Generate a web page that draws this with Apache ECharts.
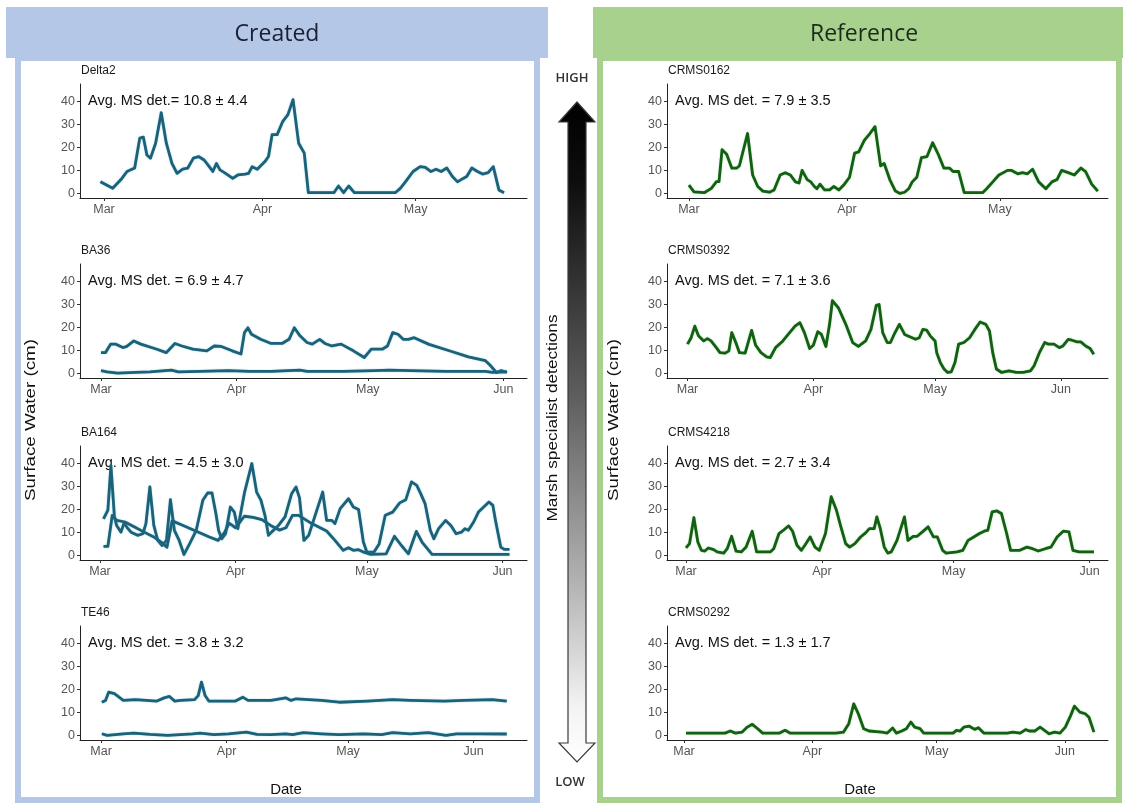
<!DOCTYPE html>
<html><head><meta charset="utf-8">
<script src="https://cdn.jsdelivr.net/npm/echarts@6/dist/echarts.min.js"></script>
<style>html,body{margin:0;padding:0;background:#fff}#c{width:1126px;height:804px}</style>
</head><body><div id="c"></div>
<script>
// ---------- tick labels / categories ----------
const monthStarts = [0, 31, 61, 92];          // day index, Mar 1 = 0
const monthLabels = ['Mar', 'Apr', 'May', 'Jun'];
const yTicks = [0, 10, 20, 30, 40];
const createdSites = ['Delta2', 'BA36', 'BA164', 'TE46'];
const referenceSites = ['CRMS0162', 'CRMS0392', 'CRMS4218', 'CRMS0292'];
const createdNotes = ['Avg. MS det.= 10.8 \u00b1 4.4', 'Avg. MS det. = 6.9 \u00b1 4.7', 'Avg. MS det. = 4.5 \u00b1 3.0', 'Avg. MS det. = 3.8 \u00b1 3.2'];
const referenceNotes = ['Avg. MS det. = 7.9 \u00b1 3.5', 'Avg. MS det. = 7.1 \u00b1 3.6', 'Avg. MS det. = 2.7 \u00b1 3.4', 'Avg. MS det. = 1.3 \u00b1 1.7'];

// ---------- series values: [day since Mar 1, surface water cm] ----------
const delta2 = [[-0.7,5.1],[1.7,2.2],[2,2],[3.5,6.5],[4.5,9.5],[6,11],[7,24],[7.7,24.4],[8.4,16.7],[9.1,15.3],[10.1,21.8],[11.2,35],[12.2,21.8],[13.3,13],[14.3,8.7],[15.4,10.5],[16.4,11],[17.5,15.3],[18.5,16],[19.6,14.5],[20.6,11.6],[21.3,9.5],[22,13],[22.7,10.2],[23.8,8.7],[25.2,6.5],[26.2,8],[27.6,8.4],[28.3,8.7],[29,11.6],[30,10.5],[31.5,13.8],[32.2,16],[32.9,25.5],[33.9,25.5],[35,31.3],[36,34.2],[37,40.7],[38.1,21.8],[39.2,17.5],[40,0.3],[45,0.3],[45.9,3.2],[46.9,0.3],[47.9,3.2],[49,0.3],[57,0.3],[58,2.2],[59,5],[60.5,9.5],[61.9,11.6],[62.9,11.3],[64,9.5],[65,10.5],[66,9.5],[67.1,11],[68.2,7.3],[69.2,5],[70.3,6.5],[71,7.3],[72,11],[73.1,9.5],[74.1,8.4],[75.2,9],[76.2,11.6],[77.3,1.5],[78.3,0.3]];

const ba36Upper = [[0,9],[1,9],[2.2,12.7],[3.4,12.7],[5,11.2],[5.9,11.7],[7.5,14.1],[9.1,12.7],[12.8,10.5],[14.9,9],[16.9,13],[18.5,11.9],[21,10.5],[24.2,9.8],[25.9,11.9],[27.5,11.7],[30,9.8],[32,8.4],[32.8,17.7],[33.6,19.8],[34.4,17],[36.5,14.8],[38.9,13],[41.4,13],[43,14.8],[44.2,19.8],[45.5,16.3],[47.1,13.4],[48.3,12.7],[50,14.8],[51.2,13],[52.8,11.9],[54.9,12.7],[57.7,9.8],[60.2,6.9],[61.8,10.5],[64.3,10.5],[65.5,11.9],[66.7,17.7],[67.9,17],[69.1,14.8],[70.3,14.8],[71.6,15.5],[75,12.6],[80,9.6],[84,7.2],[87.9,5.5],[89.1,3.3],[90.4,0.4],[91.5,1.2],[92.8,0.5]];
const ba36Lower = [[0,1.2],[1.4,0.7],[3.8,0.1],[7.9,0.4],[11.2,0.7],[16.1,1.4],[17.7,0.7],[22.6,0.9],[29.1,1.2],[34,0.9],[38.9,0.9],[45.5,1.4],[47.1,0.9],[55.3,0.9],[62.6,1.2],[65.9,1.4],[70.8,1.2],[78.9,0.9],[83,0.9],[87.9,0.9],[89.5,0.4],[92.8,0.7]];

const ba164A = [[0.8,15.9],[1.8,19.6],[2.5,39],[3.3,16.7],[3.8,13],[4.8,10.1],[5.5,14.1],[6.4,11.6],[7.1,10.1],[8.6,8.7],[9.8,9.4],[10.5,13.8],[11.4,29.7],[12.3,13],[13.2,6.5],[14.2,4.3],[15.2,6.5],[16.1,24.2],[17,10.9],[18.1,6.5],[19.2,0.4],[20.5,5.1],[22,10.9],[23.5,23.9],[24.6,27.1],[25.6,27.1],[26.5,18.1],[27.1,10.9],[27.8,7.2],[28.7,9.4],[29.8,21],[30.7,18.8],[31.5,11.6],[33,27],[34.7,39.9],[35.8,27.5],[36.8,23.9],[37.7,17.4],[38.5,8.7],[39.2,10.1],[40.8,13],[42.3,16.7],[43.8,26.8],[44.8,29.7],[45.6,25],[46.6,6.5],[47.7,8.7],[50.9,27.5],[51.8,15.2],[53,15.2],[53.7,13.8],[54.9,20.3],[56.8,24.6],[57.9,21],[59.1,19.9],[60.2,5.8],[61,1.4],[62.6,1.4],[63.8,5],[65.2,17.4],[66.9,18.8],[68.5,22.8],[69.9,24.2],[71.2,31.9],[72.4,30.4],[73.3,26.8],[74.3,22.5],[75.5,10.9],[76.3,7.2],[77.4,11.6],[79,15.2],[80.2,13],[81.4,9.4],[82.6,10.1],[83.4,11.6],[84.2,10.9],[85.4,14.5],[86.5,18.8],[87.7,21],[88.9,23.2],[89.8,21.7],[90.4,15.2],[91.6,3.6],[92.4,2.6],[93.6,2.6]];
const ba164B = [[0.8,3.9],[1.8,3.9],[2.8,17.4],[3.8,15.2],[5.7,14.5],[7.9,12.3],[10.1,10.1],[12.3,8],[14.2,5.4],[15.3,3.5],[16.5,15],[19,13],[22,10.5],[25,8],[27,6.5],[28.5,10],[29.5,14],[31,12],[33,17],[35,16.5],[37,15.5],[39,13],[41,11],[42.5,12],[44,17.4],[45.4,17.4],[48.4,13.8],[51.8,10.6],[53.7,6.5],[55.6,2.2],[56.8,3.3],[57.9,2.2],[59.1,2.5],[60.3,1.4],[61.9,0.4],[65.4,0.7],[67.3,8.3],[68.9,4.3],[70.5,0.7],[72.3,10.4],[73.6,5.8],[75.9,0.4],[93.6,0.4]];

const te46Upper = [[0.2,14.4],[1.1,15.2],[1.9,18.8],[3.3,18.1],[5.5,15.2],[8.5,15.5],[13.8,14.9],[15.6,16.3],[16.9,16.9],[18.2,14.9],[19.6,15.2],[23.1,15.5],[24,17.3],[24.8,23.1],[25.7,17.3],[26.6,14.9],[33.2,14.9],[35,16.6],[36.3,15.2],[42,15.2],[45.6,16.3],[46.9,15.2],[48.2,15.9],[54.4,15.2],[58.8,14.4],[65.8,14.9],[72,15.5],[76.4,15.2],[84.8,14.9],[89.6,15.2],[96.6,15.5],[100.2,14.9]];
const te46Lower = [[0.2,0.7],[1.5,0],[5.5,0.7],[8.1,1],[12.1,0.4],[16.5,0],[22.6,0.7],[24.4,1],[27.9,0.3],[31.5,0.7],[35.9,1.4],[38.5,0.4],[42,0.3],[45.6,0.7],[47.3,0.3],[50,1.2],[54.4,0.7],[58.8,0.3],[64.9,0.7],[69.3,0.3],[72,1.2],[76.4,0.7],[80.8,1.2],[85.2,0],[87.8,0.7],[94,0.7],[100.2,0.6]];

const crms0162 = [[0,3.6],[1,0.7],[3,0.3],[4.4,2.2],[5.4,5.1],[5.9,5.1],[6.5,19],[7.4,17],[8.4,11],[9.4,11],[9.9,12],[11.5,26],[12.5,8],[13.5,3],[14.5,1],[15.8,0.5],[16.7,1.5],[17.9,8],[18.9,9],[19.9,8],[20.9,5],[21.6,4.5],[22.2,10],[23.2,6],[23.9,5],[24.6,3],[25.1,2],[25.7,4],[26.6,1.5],[27.6,1.5],[28.4,3],[29.4,1.5],[30.5,4],[31.5,7],[32.5,17.5],[33.3,18],[34.4,23],[35.5,26],[36.5,29],[37.6,12],[38.3,13],[39.4,6],[40.5,1],[41.4,0],[42.3,0.5],[43.1,2],[43.8,5],[44.7,7],[45.6,15.5],[46.7,16],[47.8,22],[48.9,17],[50,11],[51.1,11],[51.8,9.5],[52.9,9.5],[54,0.3],[57.6,0.3],[58.4,2],[59.6,5],[60.8,8],[62.5,10],[63.2,10],[64.5,8.5],[65.4,9],[66.4,8.5],[67.4,10.5],[68.6,5],[70,2],[71.2,5],[72.2,6],[73.1,10],[74.4,9],[75.6,8],[76.9,11],[77.8,9.5],[79,4],[80.2,1]];
const crms0392 = [[0,12.7],[0.9,15.5],[1.8,20.5],[2.7,16.3],[4,14.1],[4.9,15.1],[5.8,14.1],[7.1,11.2],[8,9],[9.3,8.8],[10.2,9.8],[10.9,17.7],[11.9,13.4],[12.8,9],[14.2,8.8],[15.8,18.7],[16.8,12.2],[18.1,9],[19.5,7.2],[20.4,6.9],[21.7,11.2],[23.5,14.1],[24.8,16.9],[26.5,20.5],[27.7,22],[28.8,17.7],[30.1,10.8],[31,12.2],[32.1,18.1],[33,16.9],[34.1,11.7],[35,21.3],[35.7,31.6],[37.2,28.4],[39,21.3],[40.7,13.4],[42.1,11.7],[43.9,14.1],[45.2,19.1],[46.5,29.5],[47.2,29.9],[48.1,17.7],[49.2,13.4],[50,13.4],[50.9,16.9],[52.2,21.3],[53.5,16.9],[54.9,15.8],[56.2,14.8],[57.1,15.5],[58,19.1],[58.9,18.8],[59.8,16.3],[61,14.1],[61.4,9],[62.3,4.7],[63.2,1.9],[64.1,0.4],[65,0.7],[65.9,4.7],[66.8,12.7],[68.1,13.4],[69.5,15.5],[70.8,19.1],[72.1,22.3],[73.5,21.3],[74.4,18.4],[75.2,9],[76.1,1.9],[77.4,0.4],[79.2,1.1],[81,0.4],[82.7,0.4],[84.5,1.1],[85.4,3.3],[86.7,9],[88,13.4],[88.9,12.7],[90.3,12.7],[91.6,11.2],[92.5,11.9],[93.8,14.8],[94.7,14.4],[96,13.7],[96.9,13.7],[98.1,11.9],[99.2,10.8],[100.1,8.3]];
const crms4218 = [[0,3.3],[0.8,5.1],[1.8,16.4],[2.7,5.8],[3.5,2.2],[4.3,1.9],[5.1,3.2],[6.3,2.5],[7.1,1.5],[8.6,1],[9.4,2.9],[10.4,8.3],[11.4,1.9],[12.6,1.5],[13.7,3.6],[15.1,10.5],[16.1,1.5],[19.2,1.5],[20,2.9],[21.2,9.5],[22,10.6],[23.4,12.8],[24.3,10.5],[25.3,4.4],[26.3,2.2],[27.1,4.4],[28.3,8],[29.4,3.6],[30.4,2.2],[31.8,9.5],[33.1,25.5],[34.3,19.6],[35.2,13.1],[36.4,5.1],[37.3,3.6],[38.5,5.1],[39.8,8],[41,9.9],[41.8,11.6],[42.9,11.6],[43.5,16.7],[44.3,11.6],[45.2,3.6],[46,1],[46.8,1.5],[48.1,6.5],[49.8,16.7],[50.6,6.5],[51.8,8.3],[52.7,8.3],[53.9,10.2],[55.2,12.4],[56.4,8],[57.3,8],[58.5,2.2],[59.3,1],[61.8,1.5],[63.1,2.2],[64.3,6.5],[65.6,8],[66.9,9.5],[68.1,10.6],[68.8,10.9],[69.8,18.9],[70.9,19.3],[71.9,18.2],[73.1,9.5],[74,2.2],[76.1,2.2],[77.7,3.6],[79,2.9],[80.3,1.9],[81.9,2.9],[83.2,3.6],[84.6,8],[86,10.5],[87.3,10.2],[88.2,2.2],[89.6,1.5],[91.2,1.5],[93,1.5]];
const crms0292 = [[0.5,1],[5,1],[9.9,1],[11.2,1.9],[12.4,1],[14,1.4],[15.3,3.6],[16.5,4.8],[17.8,2.9],[19,1],[23.1,1],[24.4,2.2],[25.6,1],[36.7,1],[38.5,1.4],[39.8,5.1],[41,13.7],[42.1,9.4],[43.4,2.9],[44.7,1.9],[47.8,1.4],[49.1,1],[50.4,3.2],[51.3,1],[52.6,1.9],[53.7,2.9],[54.8,5.8],[55.7,3.6],[57,2.9],[57.9,1],[65,1],[65.8,2.2],[66.7,1.9],[67.6,3.6],[68.9,4],[70.2,2.6],[71.1,3.3],[72.4,1],[78.1,1],[79.4,1.4],[81.2,1],[82.5,2.5],[83.4,1.9],[84.7,1.9],[86,3.6],[87.3,1.9],[88.2,0.7],[89.5,1.4],[90.8,1],[92.1,3.6],[93.4,8.7],[94.3,12.7],[95.6,10.1],[96.9,9.4],[97.8,7.9],[99,1.4]];

// ---------- layout ----------
const FONT = '"Liberation Sans", Arial, sans-serif';
const BLUE_LINE = '#1d6179', GREEN_LINE = '#136013';
const gridTops = [84, 264, 446, 626];
const gridH = 114;
const colLeft = [80, 667], colWidth = [447, 441];
// x ranges (days) per panel: created 0..3, reference 0..3
const xRanges = [
  [-4.7, 82.8], [-4.8, 97.4], [-4.57, 97.6], [-5.2, 105.2],
  [-4.3, 82.2], [-5.05, 103.6], [-4.33, 96.2], [-4.1, 102.4]
];

const grids = [], xAxes = [], yAxes = [];
for (let c = 0; c < 2; c++) {
  for (let r = 0; r < 4; r++) {
    const i = c * 4 + r;
    grids.push({ left: colLeft[c], top: gridTops[r], width: colWidth[c], height: gridH, containLabel: false });
    const [mn, mx] = xRanges[i];
    const ticks = monthStarts.filter(v => v >= mn && v <= mx);
    xAxes.push({
      gridIndex: i, type: 'value', min: mn, max: mx,
      axisLine: { onZero: false, lineStyle: { color: '#222', width: 1 } },
      axisTick: { customValues: ticks, length: 3, lineStyle: { color: '#333' } },
      axisLabel: { customValues: ticks, formatter: v => monthLabels[monthStarts.indexOf(v)], color: '#555', fontSize: 12.5, fontFamily: FONT, margin: 5 },
      splitLine: { show: false }
    });
    yAxes.push({
      gridIndex: i, type: 'value', min: -2, max: 47.5,
      axisLine: { show: true, onZero: false, lineStyle: { color: '#222', width: 1 } },
      axisTick: { show: true, customValues: yTicks, length: 3, lineStyle: { color: '#333' } },
      axisLabel: { customValues: yTicks, color: '#555', fontSize: 12.5, fontFamily: FONT, margin: 5 },
      splitLine: { show: false }
    });
  }
}

function line(idx, data, green) {
  return {
    type: 'line', xAxisIndex: idx, yAxisIndex: idx, data: data,
    showSymbol: false, symbol: 'none', silent: true,
    lineStyle: { width: 2.8, color: green ? GREEN_LINE : BLUE_LINE, join: 'round',
      shadowColor: green ? 'rgba(70,180,70,0.55)' : 'rgba(30,160,200,0.55)', shadowBlur: 1.5 }
  };
}
const series = [
  line(0, delta2), line(1, ba36Upper), line(1, ba36Lower), line(2, ba164A), line(2, ba164B),
  line(3, te46Upper), line(3, te46Lower),
  line(4, crms0162, true), line(5, crms0392, true), line(6, crms4218, true), line(7, crms0292, true)
];

// ---------- decorations ----------
const graphic = [];
graphic.push({ type: 'rect', shape: { x: 6, y: 7, width: 542, height: 51 }, style: { fill: '#b4c7e7' } });
graphic.push({ type: 'rect', shape: { x: 593, y: 7, width: 530, height: 51 }, style: { fill: '#a9d18e' } });
graphic.push({ type: 'rect', shape: { x: 18, y: 58, width: 519, height: 742 }, style: { fill: 'none', stroke: '#b4c7e7', lineWidth: 6 } });
graphic.push({ type: 'rect', shape: { x: 600, y: 58, width: 519, height: 742 }, style: { fill: 'none', stroke: '#a9d18e', lineWidth: 6 } });
graphic.push({ type: 'text', x: 277, y: 34, style: { text: 'Created', font: '23px "Open Sans", sans-serif', fill: '#1b1f33', align: 'center', verticalAlign: 'middle' } });
graphic.push({ type: 'text', x: 864, y: 34, style: { text: 'Reference', font: '23px "Open Sans", sans-serif', fill: '#1b2b1b', align: 'center', verticalAlign: 'middle' } });

// double arrow
const cx = 577;
graphic.push({
  type: 'polygon',
  shape: { points: [[cx, 102], [cx + 18, 122], [cx + 9, 122], [cx + 9, 743], [cx + 18, 743], [cx, 762], [cx - 18, 743], [cx - 9, 743], [cx - 9, 122], [cx - 18, 122]] },
  style: {
    fill: new echarts.graphic.LinearGradient(0, 0, 0, 1, [
      { offset: 0, color: '#000' }, { offset: 0.12, color: '#0d0d0d' }, { offset: 0.45, color: '#5f5f5f' },
      { offset: 0.72, color: '#b0b0b0' }, { offset: 0.92, color: '#f4f4f4' }, { offset: 1, color: '#fff' }
    ]),
    stroke: '#3a3a3a', lineWidth: 1.2
  }
});
graphic.push({ type: 'text', x: 572, y: 78, style: { text: 'HIGH', font: '600 13px "Open Sans", sans-serif', fill: '#333', align: 'center', verticalAlign: 'middle' } });
graphic.push({ type: 'text', x: 570, y: 782, style: { text: 'LOW', font: '600 13px "Open Sans", sans-serif', fill: '#333', align: 'center', verticalAlign: 'middle' } });
graphic.push({ type: 'text', x: 553, y: 418, rotation: Math.PI / 2, scaleX: 1.15, style: { text: 'Marsh specialist detections', font: '15px ' + FONT, fill: '#111', align: 'center', verticalAlign: 'middle' } });

// axis titles
graphic.push({ type: 'text', x: 31, y: 420, rotation: Math.PI / 2, scaleX: 1.25, style: { text: 'Surface Water (cm)', font: '15px ' + FONT, fill: '#111', align: 'center', verticalAlign: 'middle' } });
graphic.push({ type: 'text', x: 614, y: 420, rotation: Math.PI / 2, scaleX: 1.25, style: { text: 'Surface Water (cm)', font: '15px ' + FONT, fill: '#111', align: 'center', verticalAlign: 'middle' } });
graphic.push({ type: 'text', x: 286, y: 790, style: { text: 'Date', font: '15px ' + FONT, fill: '#111', align: 'center', verticalAlign: 'middle' } });
graphic.push({ type: 'text', x: 860, y: 790, style: { text: 'Date', font: '15px ' + FONT, fill: '#111', align: 'center', verticalAlign: 'middle' } });

// panel titles & annotations
for (let c = 0; c < 2; c++) {
  for (let r = 0; r < 4; r++) {
    const y40 = gridTops[r] + 17.5;
    const names = c === 0 ? createdSites : referenceSites;
    const notes = c === 0 ? createdNotes : referenceNotes;
    graphic.push({ type: 'text', x: colLeft[c] + 1, y: y40 - 31, style: { text: names[r], font: '12px ' + FONT, fill: '#1a1a1a', align: 'left', verticalAlign: 'middle' } });
    graphic.push({ type: 'text', x: colLeft[c] + 8, y: y40 - 1, style: { text: notes[r], font: '14.5px ' + FONT, fill: '#111', align: 'left', verticalAlign: 'middle' } });
  }
}

const chart = echarts.init(document.getElementById('c'), null, { renderer: 'canvas', width: 1126, height: 804 });
chart.setOption({
  backgroundColor: '#fff',
  animation: false,
  grid: grids, xAxis: xAxes, yAxis: yAxes, series: series, graphic: graphic
});
</script></body></html>
